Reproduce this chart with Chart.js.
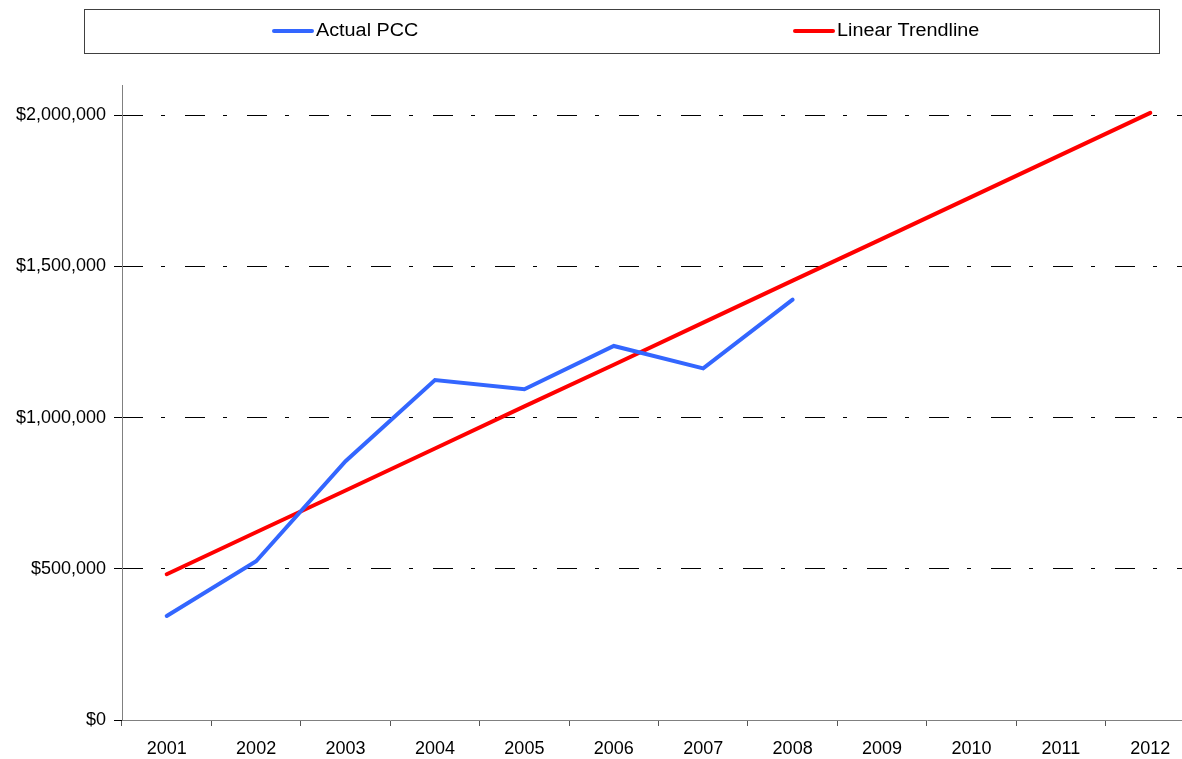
<!DOCTYPE html>
<html>
<head>
<meta charset="utf-8">
<script src="https://cdn.jsdelivr.net/npm/chart.js@4/dist/chart.umd.min.js"></script>
<style>
  html, body { margin: 0; padding: 0; background: #fff; overflow: hidden; }
  #wrap { position: relative; width: 1195px; height: 759px; }
</style>
</head>
<body>
<div id="wrap"><canvas id="c"></canvas></div>
<script>
const years = ['2001','2002','2003','2004','2005','2006','2007','2008','2009','2010','2011','2012'];
const actualPCC = [344000, 525000, 856000, 1124000, 1094000, 1237000, 1163000, 1390000, null, null, null, null];
const linearTrend = [482000, 621000, 759000, 898000, 1037000, 1175000, 1314000, 1453000, 1591000, 1730000, 1869000, 2008000];
const yTickValues = [0, 500000, 1000000, 1500000, 2000000];
const seriesNames = ['Actual PCC', 'Linear Trendline'];

const FONT = 'Liberation Sans, Arial, sans-serif';

const boxLegend = {
  id: 'boxLegend',
  afterDraw(chart) {
    const ctx = chart.ctx;
    ctx.save();
    ctx.strokeStyle = '#404040';
    ctx.lineWidth = 1;
    ctx.strokeRect(84.5, 9.5, 1075, 44);
    const items = [{x: 272}, {x: 793}];
    chart.data.datasets.forEach((ds, i) => {
      const x = items[i].x, y = 31;
      ctx.strokeStyle = ds.borderColor;
      ctx.lineWidth = 4;
      ctx.lineCap = 'round';
      ctx.beginPath();
      ctx.moveTo(x + 2, y);
      ctx.lineTo(x + 40, y);
      ctx.stroke();
      ctx.save();
      ctx.translate(x + 44, y);
      ctx.scale(1.1, 1);
      ctx.fillStyle = '#000';
      ctx.font = '18px ' + FONT;
      ctx.textBaseline = 'middle';
      ctx.textAlign = 'left';
      ctx.fillText(ds.label, 0, 0);
      ctx.restore();
    });
    ctx.restore();
  }
};

new Chart(document.getElementById('c'), {
  type: 'line',
  data: {
    labels: years,
    datasets: [
      { label: seriesNames[0], data: actualPCC, borderColor: 'rgb(51,102,255)', borderWidth: 4,
        pointRadius: 0, borderCapStyle: 'round', borderJoinStyle: 'miter', tension: 0, spanGaps: false },
      { label: seriesNames[1], data: linearTrend, borderColor: 'rgb(255,0,0)', borderWidth: 4,
        pointRadius: 0, borderCapStyle: 'round', tension: 0 }
    ]
  },
  options: {
    responsive: true,
    maintainAspectRatio: false,
    animation: false,
    devicePixelRatio: 1,
    layout: { padding: { top: 85, left: 0, right: 0, bottom: 0 } },
    plugins: { legend: { display: false }, tooltip: { enabled: false } },
    scales: {
      x: {
        offset: true,
        grid: { display: true, drawOnChartArea: false, drawTicks: true, tickLength: 6, offset: true,
                tickColor: '#555', color: '#555' },
        border: { display: true, color: '#808080', width: 1 },
        ticks: { color: '#000', font: { family: FONT, size: 18 }, padding: 12, maxRotation: 0, autoSkip: false },
        afterFit(scale) { scale.height = 39; }
      },
      y: {
        min: 0,
        max: 2100000,
        afterBuildTicks(scale) { scale.ticks = yTickValues.map(v => ({ value: v })); },
        grid: {
          color: (c) => (c.tick && c.tick.value === 0) ? 'rgba(0,0,0,0)' : '#000',
          tickColor: '#000',
          tickLength: 8,
          tickBorderDash: [],
          lineWidth: 1
        },
        border: { display: true, color: '#808080', width: 1, dash: [20, 18, 4, 20] },
        ticks: {
          color: '#000', font: { family: FONT, size: 18 }, padding: 8,
          callback: (v) => '$' + Number(v).toLocaleString('en-US')
        },
        afterFit(scale) { scale.width = 122; }
      }
    }
  },
  plugins: [boxLegend]
});
</script>
</body>
</html>
